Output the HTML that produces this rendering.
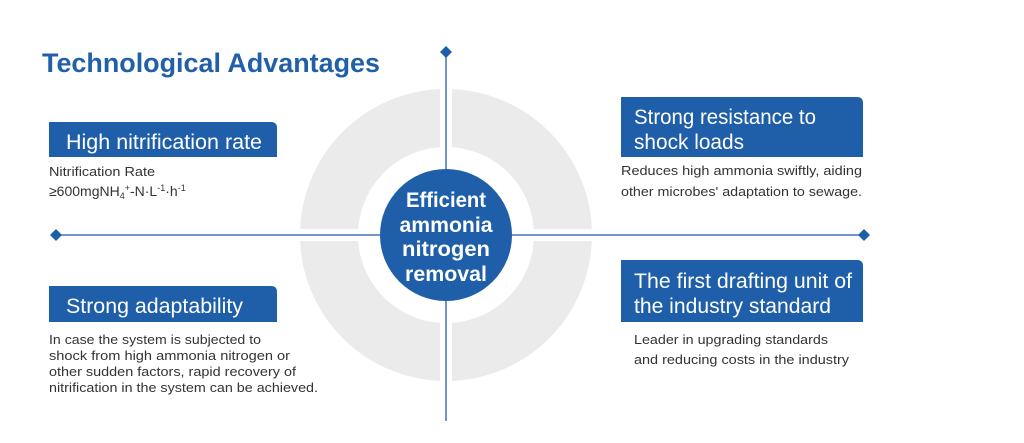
<!DOCTYPE html>
<html><head><meta charset="utf-8"><style>
html,body{margin:0;padding:0;background:#fff;}
svg{display:block;}
text{font-family:"Liberation Sans",sans-serif;}
</style></head><body>
<svg width="1024" height="443" viewBox="0 0 1024 443" xmlns="http://www.w3.org/2000/svg">
<rect width="1024" height="443" fill="#fff"/>
<circle cx="446" cy="235" r="117" fill="none" stroke="#ebebeb" stroke-width="58"/>
<rect x="440" y="80" width="12" height="310" fill="#fff"/>
<rect x="290" y="229" width="312" height="12" fill="#fff"/>
<line x1="446" y1="52" x2="446" y2="421" stroke="#3f73b5" stroke-width="1.5"/>
<line x1="56" y1="235" x2="864" y2="235" stroke="#3f73b5" stroke-width="1.5"/>
<path d="M446 46 L452 52 L446 58 L440 52Z" fill="#1f5ea8"/>
<path d="M56 229 L62 235 L56 241 L50 235Z" fill="#1f5ea8"/>
<path d="M864 229 L870 235 L864 241 L858 235Z" fill="#1f5ea8"/>
<circle cx="446" cy="235" r="66" fill="#1f5ea8"/>
<g fill="#fff" font-weight="bold" font-size="21" text-anchor="middle">
<text x="446" y="207" textLength="80" lengthAdjust="spacingAndGlyphs">Efficient</text>
<text x="446" y="232" textLength="93" lengthAdjust="spacingAndGlyphs">ammonia</text>
<text x="446" y="256" textLength="88" lengthAdjust="spacingAndGlyphs">nitrogen</text>
<text x="446" y="281" textLength="82" lengthAdjust="spacingAndGlyphs">removal</text>
</g>
<text x="42" y="72" font-size="27" font-weight="bold" fill="#2160a8" textLength="338" lengthAdjust="spacingAndGlyphs">Technological Advantages</text>
<g fill="#1f5ea8">
<path d="M49 122 H271 Q277 122 277 128 V157 H49Z"/>
<path d="M49 286 H271 Q277 286 277 292 V322 H49Z"/>
<path d="M621 97 H857 Q863 97 863 103 V157 H621Z"/>
<path d="M621 260 H857 Q863 260 863 266 V322 H621Z"/>
</g>
<g fill="#fff" font-size="21">
<text x="66" y="149" textLength="196" lengthAdjust="spacingAndGlyphs">High nitrification rate</text>
<text x="66" y="313" textLength="177" lengthAdjust="spacingAndGlyphs">Strong adaptability</text>
<text x="634" y="124" textLength="182" lengthAdjust="spacingAndGlyphs">Strong resistance to</text>
<text x="634" y="149" textLength="110" lengthAdjust="spacingAndGlyphs">shock loads</text>
<text x="634" y="288" textLength="218" lengthAdjust="spacingAndGlyphs">The first drafting unit of</text>
<text x="634" y="313" textLength="197" lengthAdjust="spacingAndGlyphs">the industry standard</text>
</g>
<g fill="#333" font-size="13">
<text x="49" y="176" textLength="106" lengthAdjust="spacingAndGlyphs">Nitrification Rate</text>
<text x="49" y="196" font-size="14">≥600mgNH<tspan font-size="9" dy="3">4</tspan><tspan font-size="9" dy="-8">+</tspan><tspan dy="5">-N·L</tspan><tspan font-size="9" dy="-5">-1</tspan><tspan dy="5">·h</tspan><tspan font-size="9" dy="-5">-1</tspan></text>
<text x="621" y="175" textLength="241" lengthAdjust="spacingAndGlyphs">Reduces high ammonia swiftly, aiding</text>
<text x="621" y="196" textLength="241" lengthAdjust="spacingAndGlyphs">other microbes' adaptation to sewage.</text>
<text x="634" y="344" textLength="194" lengthAdjust="spacingAndGlyphs">Leader in upgrading standards</text>
<text x="634" y="364" textLength="215" lengthAdjust="spacingAndGlyphs">and reducing costs in the industry</text>
<text x="49" y="344" textLength="212" lengthAdjust="spacingAndGlyphs">In case the system is subjected to</text>
<text x="49" y="360" textLength="241" lengthAdjust="spacingAndGlyphs">shock from high ammonia nitrogen or</text>
<text x="49" y="376" textLength="247" lengthAdjust="spacingAndGlyphs">other sudden factors, rapid recovery of</text>
<text x="49" y="392" textLength="269" lengthAdjust="spacingAndGlyphs">nitrification in the system can be achieved.</text>
</g>
</svg>
</body></html>
